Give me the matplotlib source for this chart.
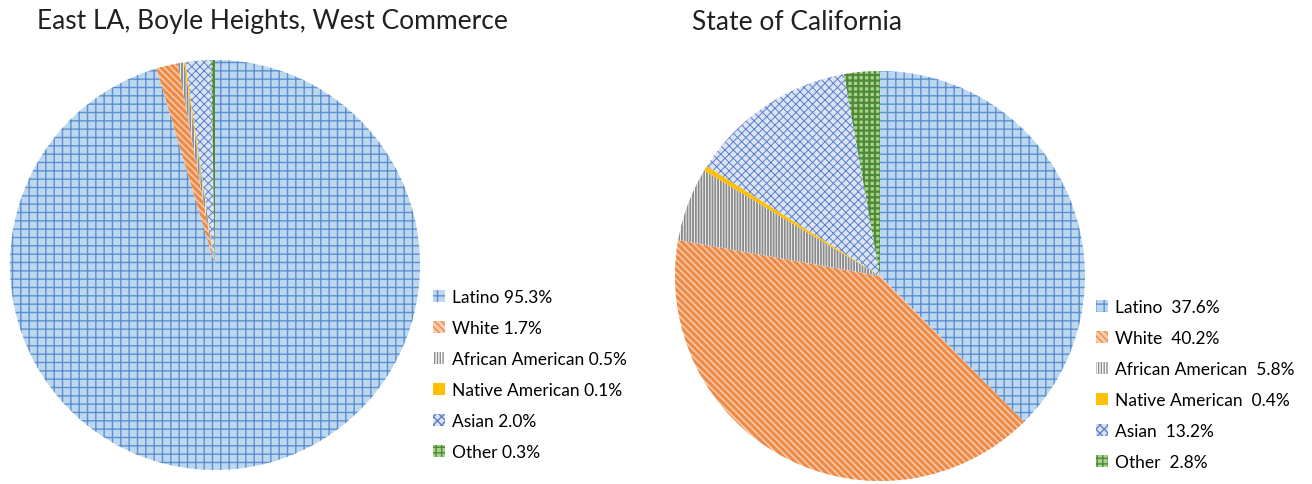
import matplotlib.pyplot as plt
from matplotlib.patches import Patch

# ---- data ----
categories = ['Latino', 'White', 'African American', 'Native American', 'Asian', 'Other']
east_la = [95.3, 1.7, 0.5, 0.1, 2.0, 0.3]
california = [37.6, 40.2, 5.8, 0.4, 13.2, 2.8]
title_left = 'East LA, Boyle Heights, West Commerce'
title_right = 'State of California'

# face, hatch colour, hatch pattern, hatch width per category (Excel-like pattern fills)
faces = ['#BDD7EE', '#F8CBAD', '#FFFFFF', '#FFC000', '#DCE4F4', '#A9D18E']
hatch_cols = ['#5B8FD0', '#EE8A45', '#8C8C8C', '#FFC000', '#5A7FCC', '#4E8A35']
hatches = ['++', '\\\\\\\\\\', '||||||', '', 'xxxx', '+++']
hatch_lw = [1.0, 2.2, 1.4, 1.0, 0.7, 1.6]

plt.rcParams['font.family'] = ['Lato', 'DejaVu Sans']
plt.rcParams['hatch.linewidth'] = 1.0

W, H = 1312, 485
fig = plt.figure(figsize=(W / 100, H / 100), dpi=100)


def px_axes(cx, cy, r):
    return fig.add_axes([(cx - r) / W, (H - cy - r) / H, 2 * r / W, 2 * r / H])


def style(p, fc, hc, hp, lw):
    p.set_facecolor(fc)
    p.set_edgecolor(hc)
    p.set_linewidth(0)
    p.set_hatch(hp)
    if hasattr(p, 'set_hatch_linewidth'):
        p.set_hatch_linewidth(lw)


def draw_pie(ax, vals):
    wedges, _ = ax.pie(vals, startangle=90, counterclock=False, radius=1)
    for w, fc, hc, hp, lw in zip(wedges, faces, hatch_cols, hatches, hatch_lw):
        style(w, fc, hc, hp, lw)
    ax.set_xlim(-1, 1)
    ax.set_ylim(-1, 1)
    ax.set_aspect('equal')
    ax.axis('off')


def handles():
    out = []
    for fc, hc, hp, lw in zip(faces, hatch_cols, hatches, hatch_lw):
        p = Patch()
        style(p, fc, hc, hp, lw)
        out.append(p)
    return out


axL = px_axes(215, 266, 205)
draw_pie(axL, east_la)
axR = px_axes(880, 277, 205)
draw_pie(axR, california)

fig.text(37 / W, 1 - 22 / H, title_left, fontsize=19, va='center', ha='left', color='#202020')
fig.text(692 / W, 1 - 22 / H, title_right, fontsize=19, va='center', ha='left', color='#202020')

labels_l = [f'{c} {v:.1f}%' for c, v in zip(categories, east_la)]
labels_r = [f'{c}  {v:.1f}%' for c, v in zip(categories, california)]

leg_kw = dict(loc='upper left', frameon=False, fontsize=12.5, handlelength=0.7,
              handleheight=0.7, handletextpad=0.4, labelspacing=0.86,
              borderaxespad=0, borderpad=0)
fig.legend(handles(), labels_l, bbox_to_anchor=(433 / W, 1 - 290 / H), **leg_kw)
fig.legend(handles(), labels_r, bbox_to_anchor=(1096 / W, 1 - 300 / H), **leg_kw)

fig.savefig('out.png', dpi=100, facecolor='white')
